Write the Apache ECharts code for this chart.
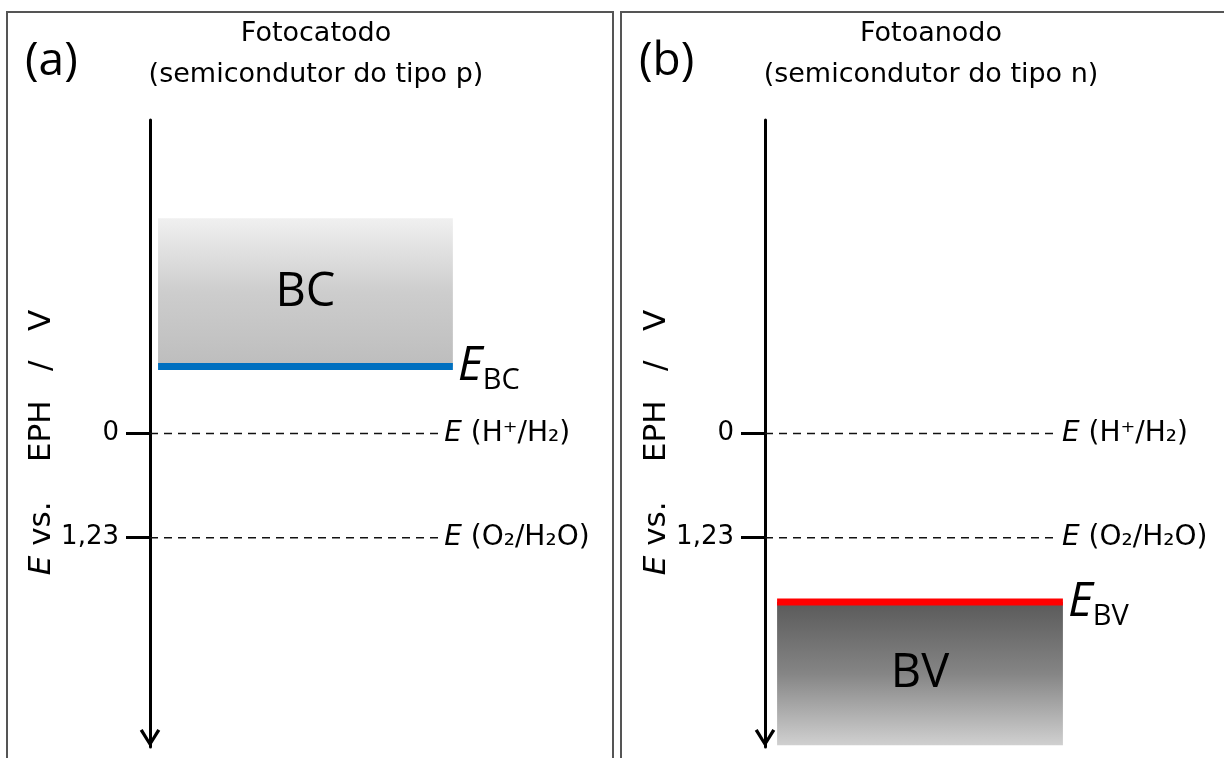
<!DOCTYPE html>
<html><head><meta charset="utf-8">
<script src="https://cdn.jsdelivr.net/npm/echarts@6/dist/echarts.min.js"></script>
<style>html,body{margin:0;padding:0;background:#fff}#c{width:1224px;height:758px}</style>
</head><body><div id="c"></div>
<script>
// ---- data ----
const axisRange = [-3.7, 3.7];            // E vs. EPH / V (downward positive)
const tickValues = [0, 1.23];
const tickLabels = ['0', '1,23'];
const redoxLevels = [0, 1.23];
const redoxNames = ['H⁺/H₂', 'O₂/H₂O'];
const panelTags = ['(a)', '(b)'];
const panelTitles = ['Fotocatodo', 'Fotoanodo'];
const panelSubtitles = ['(semicondutor do tipo p)', '(semicondutor do tipo n)'];
const bandNames = ['BC', 'BV'];
const bandEdges = [-0.79, 1.99];          // E_BC , E_BV
const bandFar = [-2.54, 3.68];            // far side of the band
const edgeColors = ['#0070c0', '#ff0000'];

// ---- layout ----
const gridLeft = [150, 765];
const gridTop = 120, gridH = 627, gridW = 310;
const boxX = [[2.6, 97.7], [3.9, 96.1]];
const dashEnd = [93.6, 94.5];
const gradients = [
  [{offset:0,color:'#f0f0f0'},{offset:0.5,color:'#cdcdcd'},{offset:1,color:'#bdbdbd'}],
  [{offset:0,color:'#5a5a5a'},{offset:0.5,color:'#858585'},{offset:1,color:'#d0d0d0'}]
];
const sans = 'Open Sans';
const wide = 'DejaVu Sans';
const arrowPath = 'path://M0,80 L50,0 L100,80 L86,88 L50,28 L14,88 Z';

const chart = echarts.init(document.getElementById('c'), null, {renderer:'canvas'});
const grids = [], xAxes = [], yAxes = [], series = [], titles = [], graphics = [];

[0,1].forEach(i => {
  grids.push({left: gridLeft[i], top: gridTop, width: gridW, height: gridH});
  xAxes.push({gridIndex:i, type:'value', min:0, max:100, show:false});
  yAxes.push({
    gridIndex:i, type:'value', inverse:true, min:axisRange[0], max:axisRange[1],
    name:'{e|E} vs.    EPH   /   V', nameLocation:'middle', nameRotate:90, nameGap:92,
    nameTextStyle:{fontFamily:wide, fontSize:31, color:'#000', padding:[0,18,0,0],
      rich:{e:{fontFamily:wide, fontSize:31, fontStyle:'italic', color:'#000'}}},
    axisLine:{show:true, onZero:false, lineStyle:{color:'#000', width:3},
      symbol:[arrowPath,'none'], symbolSize:[24,18], symbolOffset:[9,0]},
    axisTick:{show:true, customValues:tickValues, length:24, inside:false, lineStyle:{color:'#000', width:3}},
    axisLabel:{show:true, customValues:tickValues, margin:31, fontFamily:wide, fontSize:26, color:'#000',
      formatter: v => tickLabels[tickValues.indexOf(v)]},
    splitLine:{show:false}
  });
  redoxLevels.forEach((v, k) => {
    series.push({
      type:'line', xAxisIndex:i, yAxisIndex:i, symbol:'none', silent:true,
      data:[[0, v], [dashEnd[i], v]],
      lineStyle:{color:'#111', width:1.5, type:[8,6]},
      endLabel:{show:true, distance:4, formatter:'{e|E} ('+redoxNames[k]+')',
        fontFamily:wide, fontSize:28, color:'#000',
        rich:{e:{fontFamily:wide, fontSize:28, fontStyle:'italic', color:'#000'}}}
    });
  });
  const lo = Math.min(bandEdges[i], bandFar[i]), hi = Math.max(bandEdges[i], bandFar[i]);
  series.push({
    type:'line', xAxisIndex:i, yAxisIndex:i, symbol:'none', silent:true, z:5,
    data:[[boxX[i][0], bandEdges[i]], [boxX[i][1], bandEdges[i]]],
    lineStyle:{color:edgeColors[i], width:7},
    endLabel:{show:true, distance:5, formatter:'{e|E}{s|'+bandNames[i]+'}',
      rich:{e:{fontFamily:sans, fontSize:48, fontStyle:'italic', color:'#000', verticalAlign:'middle', lineHeight:58},
            s:{fontFamily:sans, fontSize:29, color:'#000', verticalAlign:'bottom', lineHeight:29}}},
    markArea:{silent:true, z:1,
      itemStyle:{color:{type:'linear', x:0, y:0, x2:0, y2:1, colorStops:gradients[i]}},
      label:{show:true, position:'inside', formatter:bandNames[i], fontFamily:sans, fontSize:47, color:'#000'},
      data:[[{xAxis:boxX[i][0], yAxis:lo}, {xAxis:boxX[i][1], yAxis:hi}]]}
  });
  const cx = [311, 926][i];
  titles.push({text:panelTitles[i]+'\n'+panelSubtitles[i], left:cx, top:8, textAlign:'center',
    textStyle:{fontFamily:wide, fontSize:27, fontWeight:'normal', color:'#000', lineHeight:41}});
  titles.push({text:panelTags[i], left:[20,634][i], top:34,
    textStyle:{fontFamily:sans, fontSize:46, fontWeight:'normal', color:'#000'}});
  graphics.push({type:'rect', shape:{x:[7,621][i], y:12, width:[606,640][i], height:780},
    style:{fill:'none', stroke:'#555', lineWidth:2}, silent:true});
});

chart.setOption({
  animation:false,
  backgroundColor:'#fff',
  title:titles,
  grid:grids, xAxis:xAxes, yAxis:yAxes, series:series,
  graphic:graphics
});
</script></body></html>
